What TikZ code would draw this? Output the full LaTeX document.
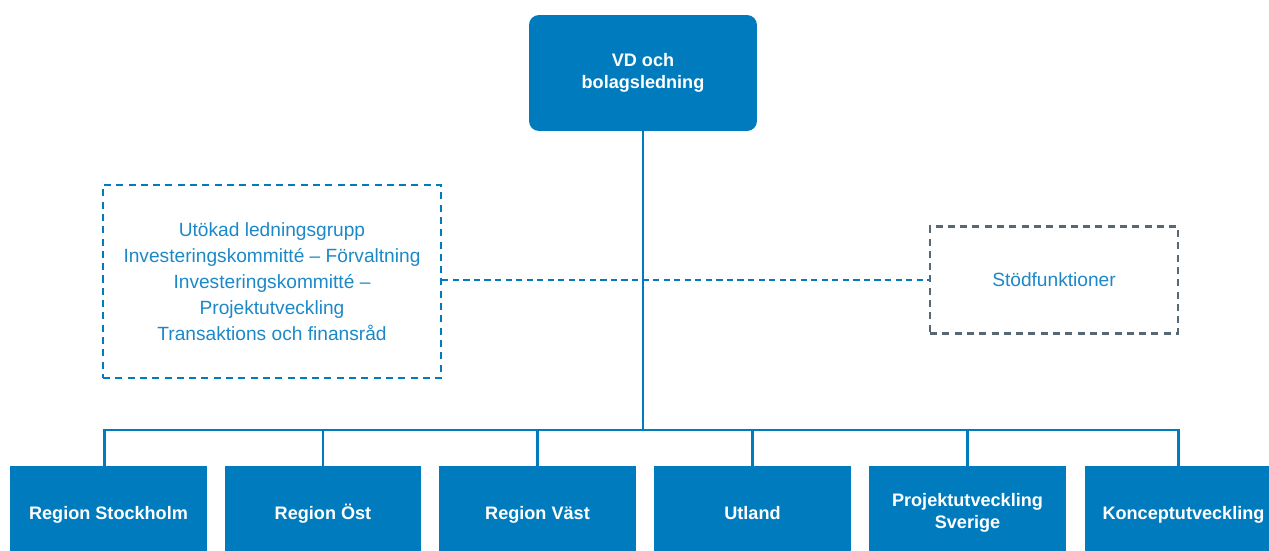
\documentclass[tikz,border=0pt]{standalone}
\usepackage{fontspec}
\setmainfont{Liberation Sans}
\definecolor{boxblue}{RGB}{0,124,190}
\definecolor{textblue}{RGB}{28,136,200}
\definecolor{dashgrey}{RGB}{86,104,116}
\tikzset{
  unitbox/.style={fill=boxblue, text=white, align=center, inner sep=0pt,
    minimum width=3.94cm, minimum height=1.88cm,
    font=\fontsize{10.3}{12.9}\selectfont\bfseries},
  oneline/.style={text height=1.85ex, text depth=0.5ex},
  groupbox/.style={draw=boxblue, dashed, dash pattern=on 4pt off 3pt, line width=1.5pt,
    text=textblue, align=center, inner sep=0pt,
    font=\fontsize{10.9}{14.7}\selectfont},
  link/.style={draw=boxblue, line width=1.2pt}
}
\begin{document}
\begin{tikzpicture}[x=0.02cm, y=-0.02cm]
  \useasboundingbox (0,0) rectangle (1269,551);
  \clip (0,0) rectangle (1269,551);
  % top box
  \node[unitbox, rounded corners=0.2cm, minimum width=4.56cm, minimum height=2.32cm,
    font=\fontsize{10.3}{12.5}\selectfont\bfseries] (vd) at (643,73) {VD och\\bolagsledning};
  % dashed boxes left and right
  \node[groupbox, minimum width=6.76cm, minimum height=3.86cm] (grupp) at (272,281.5)
    {Utökad ledningsgrupp\\Investeringskommitté -- Förvaltning\\Investeringskommitté --\\Projektutveckling\\Transaktions och finansråd};
  \node[groupbox, draw=dashgrey, minimum width=4.96cm, minimum height=2.14cm] (stod) at (1054,280) {Stödfunktioner};
  % dashed link between them
  \draw[link, dashed, dash pattern=on 3.5pt off 2.5pt, line width=1.1pt] (stod.west -| grupp.east) -- (stod.west);
  % units (they run past the lower edge)
  \node[unitbox, oneline] (sthlm) at (108.5,513) {Region Stockholm};
  \node[unitbox, oneline] (ost) at (323,513) {Region Öst};
  \node[unitbox, oneline] (vast) at (537.5,513) {Region Väst};
  \node[unitbox, oneline] (utland) at (752.5,513) {Utland};
  \node[unitbox] (projsv) at (967.5,513) {Projektutveckling\\Sverige};
  \node[unitbox, oneline] (koncept) at (1183.5,513) {Konceptutveckling};
  % tree lines
  \coordinate (bus) at (643,430);
  \draw[link] (vd.south) -- (bus);
  \draw[link] (bus) -| ([xshift=-0.08cm]sthlm.north);
  \draw[link] (bus) -| (ost.north);
  \draw[link] (bus) -| (vast.north);
  \draw[link] (bus) -| (utland.north);
  \draw[link] (bus) -| (projsv.north);
  \draw[link] (bus) -| ([xshift=-0.1cm]koncept.north);
\end{tikzpicture}
\end{document}
